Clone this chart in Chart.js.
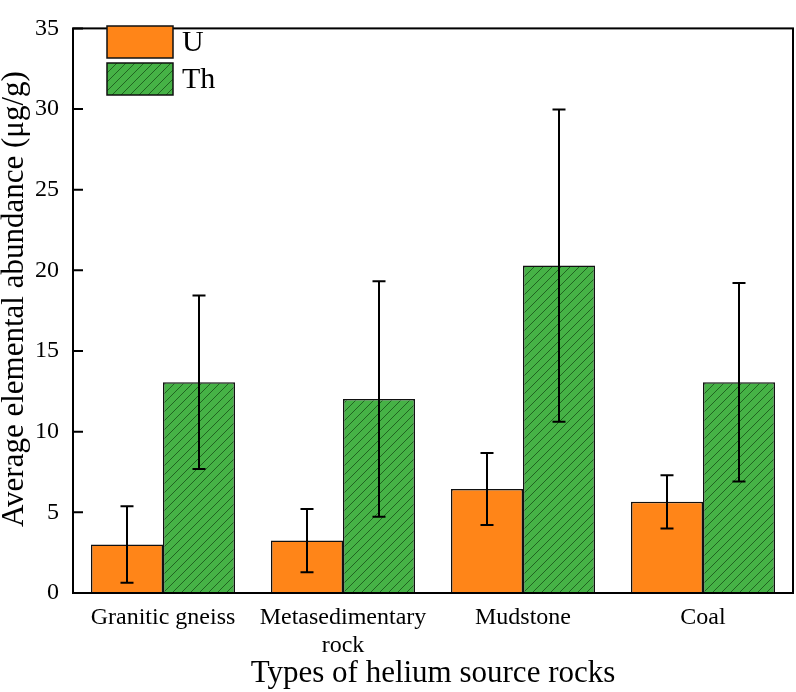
<!DOCTYPE html>
<html>
<head>
<meta charset="utf-8">
<script src="https://cdn.jsdelivr.net/npm/chart.js@4.4.1/dist/chart.umd.min.js"></script>
<style>
  html, body { margin: 0; padding: 0; background: #fff; }
  canvas { display: block; }
</style>
</head>
<body>
<canvas id="grafico" width="796" height="692"></canvas>
<script>
  const categorias = ['Granitic gneiss', ['Metasedimentary', 'rock'], 'Mudstone', 'Coal'];
  const valoresU = [3.0, 3.25, 6.45, 5.65];
  const erroU = [2.37, 1.96, 2.23, 1.65];
  const valoresTh = [13.06, 12.02, 20.3, 13.06];
  const erroTh = [5.38, 7.3, 9.68, 6.15];
  const ticksY = [0, 5, 10, 15, 20, 25, 30, 35];

  const fonte = '"Liberation Serif", "Times New Roman", serif';
  const laranja = 'rgb(255,133,24)';
  const verde = 'rgb(70,178,70)';

  // hachura diagonal para a barra de Th
  const criarHachura = () => {
    const s = 9;
    const c = document.createElement('canvas');
    c.width = s; c.height = s;
    const g = c.getContext('2d');
    g.fillStyle = verde;
    g.fillRect(0, 0, s, s);
    g.strokeStyle = 'rgba(20,70,20,0.8)';
    g.lineWidth = 0.9;
    g.beginPath();
    g.moveTo(0, s); g.lineTo(s, 0);
    g.moveTo(-s / 2, s / 2); g.lineTo(s / 2, -s / 2);
    g.moveTo(s / 2, s * 1.5); g.lineTo(s * 1.5, s / 2);
    g.stroke();
    return g.createPattern(c, 'repeat');
  };
  const hachura = criarHachura();

  const barrasErro = {
    id: 'barrasErro',
    afterDatasetsDraw(chart) {
      const ctx = chart.ctx;
      const y = chart.scales.y;
      ctx.save();
      ctx.strokeStyle = '#000';
      ctx.lineWidth = 2;
      chart.data.datasets.forEach((ds, i) => {
        const meta = chart.getDatasetMeta(i);
        meta.data.forEach((bar, j) => {
          const v = ds.data[j], e = ds.erros[j];
          const yt = y.getPixelForValue(v + e);
          const yb = y.getPixelForValue(v - e);
          ctx.beginPath();
          ctx.moveTo(bar.x, yt); ctx.lineTo(bar.x, yb);
          ctx.moveTo(bar.x - 6.5, yt); ctx.lineTo(bar.x + 6.5, yt);
          ctx.moveTo(bar.x - 6.5, yb); ctx.lineTo(bar.x + 6.5, yb);
          ctx.stroke();
        });
      });
      ctx.restore();
    }
  };

  const moldura = {
    id: 'moldura',
    afterDraw(chart) {
      const ctx = chart.ctx;
      const a = chart.chartArea;
      const y = chart.scales.y;
      ctx.save();
      ctx.strokeStyle = '#000';
      ctx.lineWidth = 2;
      ctx.strokeRect(a.left, a.top, a.right - a.left, a.bottom - a.top);
      ctx.beginPath();
      ticksY.forEach(t => {
        const py = y.getPixelForValue(t);
        ctx.moveTo(a.left, py); ctx.lineTo(a.left + 10, py);
      });
      ctx.stroke();

      // legenda
      const itens = [
        { txt: 'U', cor: laranja },
        { txt: 'Th', cor: hachura }
      ];
      ctx.font = '30px ' + fonte;
      ctx.textBaseline = 'middle';
      itens.forEach((it, k) => {
        const bx = 107, by = 26 + k * 37;
        ctx.fillStyle = it.cor;
        ctx.fillRect(bx, by, 66, 32);
        ctx.lineWidth = 1.5;
        ctx.strokeStyle = '#111';
        ctx.strokeRect(bx, by, 66, 32);
        ctx.fillStyle = '#000';
        ctx.fillText(it.txt, bx + 75, by + 17);
      });
      ctx.restore();
    }
  };

  new Chart(document.getElementById('grafico'), {
    type: 'bar',
    data: {
      labels: categorias,
      datasets: [
        {
          label: 'U',
          data: valoresU,
          erros: erroU,
          backgroundColor: laranja,
          borderColor: '#111',
          borderWidth: 1.5
        },
        {
          label: 'Th',
          data: valoresTh,
          erros: erroTh,
          backgroundColor: hachura,
          borderColor: '#111',
          borderWidth: 1.5
        }
      ]
    },
    options: {
      responsive: false,
      animation: false,
      devicePixelRatio: 1,
      layout: { padding: { top: 9, right: 3, left: 0, bottom: 0 } },
      datasets: { bar: { categoryPercentage: 0.8, barPercentage: 1.0 } },
      plugins: {
        legend: { display: false },
        tooltip: { enabled: false }
      },
      scales: {
        x: {
          grid: { display: false, drawTicks: false },
          border: { display: false },
          ticks: {
            color: '#000',
            font: { family: fonte, size: 24 },
            padding: 10,
            maxRotation: 0,
            autoSkip: false
          },
          title: {
            display: true,
            text: 'Types of helium source rocks',
            color: '#000',
            font: { family: fonte, size: 31 },
            padding: { top: 0, bottom: 0 }
          },
          afterFit(s) { s.height = 99; }
        },
        y: {
          min: 0,
          max: 35,
          grid: { display: false, drawTicks: false },
          border: { display: false },
          afterBuildTicks(s) { s.ticks = ticksY.map(v => ({ value: v })); },
          ticks: {
            color: '#000',
            font: { family: fonte, size: 24 },
            padding: 14
          },
          title: {
            display: true,
            text: '   Average elemental abundance (μg/g)',
            color: '#000',
            font: { family: fonte, size: 31, lineHeight: 0.95 },
            padding: { top: 0, bottom: 0 }
          },
          afterFit(s) { s.width = 73; }
        }
      }
    },
    plugins: [barrasErro, moldura]
  });
</script>
</body>
</html>
